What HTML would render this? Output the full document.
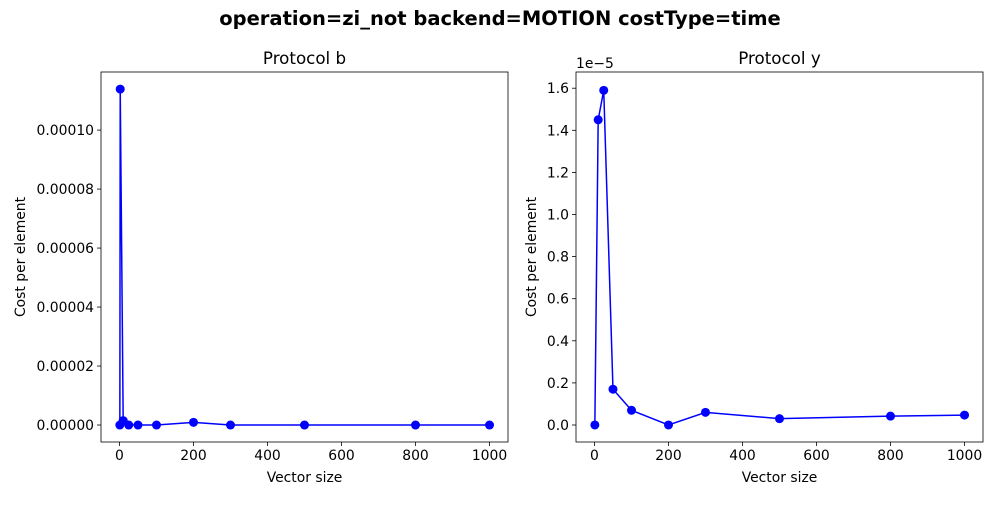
<!DOCTYPE html>
<html><head><meta charset="utf-8"><style>
body{margin:0;background:#fff;font-family:"Liberation Sans","DejaVu Sans",sans-serif}
svg text{font-family:"DejaVu Sans","Liberation Sans",sans-serif}
</style></head><body>
<svg id="fig" width="1000" height="500" xmlns="http://www.w3.org/2000/svg">
<text x="500" y="25" text-anchor="middle" font-size="19.5" font-weight="bold">operation=zi_not backend=MOTION costType=time</text>
</svg>
<script>
const leftX=[1,2,10,25,50,100,200,300,500,800,1000];
const leftY=[0,0.0001139,0.0000015,0,0,0,0.0000009,0,0,0,0];
const rightX=[1,10,25,50,100,200,300,500,800,1000];
const rightY=[0,1.45,1.59,0.17,0.07,0,0.06,0.03,0.042,0.047];
const xTicks=[0,200,400,600,800,1000];
const leftTicks=[0,0.00002,0.00004,0.00006,0.00008,0.0001];
const leftTickLabels=["0.00000","0.00002","0.00004","0.00006","0.00008","0.00010"];
const rightTicks=[0,0.2,0.4,0.6,0.8,1.0,1.2,1.4,1.6];
const rightTickLabels=["0.0","0.2","0.4","0.6","0.8","1.0","1.2","1.4","1.6"];
const NS="http://www.w3.org/2000/svg";
const svg=document.getElementById('fig');
function mk(tag,attrs,parent){const e=document.createElementNS(NS,tag);for(const k in attrs)e.setAttribute(k,attrs[k]);(parent||svg).appendChild(e);return e;}
function panel(px,title,xs,ys,yt,ytl,ymin,ymax,name,offset){
  const L=px,R=px+407,T=72,B=442;
  const g=mk('g',{});
  
  
  const xmin=-49.95,xmax=1049.95;
  const sx=v=>L+(v-xmin)/(xmax-xmin)*(R-L);
  const sy=v=>B-(v-ymin)/(ymax-ymin)*(B-T);
  xTicks.forEach(t=>{const x=sx(t);mk('line',{x1:x,x2:x,y1:B,y2:B+4,stroke:'#000','stroke-width':0.8},g);
    const tx=mk('text',{x:x,y:B+18,'text-anchor':'middle','font-size':13.9},g);tx.textContent=t;
    
    });
  yt.forEach((t,i)=>{const y=sy(t);mk('line',{x1:L-4,x2:L,y1:y,y2:y,stroke:'#000','stroke-width':0.8},g);
    const tx=mk('text',{x:L-7,y:y+5,'text-anchor':'end','font-size':13.9},g);tx.textContent=ytl[i];
    
    });
  const pts=xs.map((x,i)=>sx(x)+','+sy(ys[i])).join(' ');
  const line=mk('polyline',{points:pts,fill:'none',stroke:'#0000ff','stroke-width':1.5},g);
  
  
  xs.forEach((x,i)=>{const c=mk('circle',{cx:sx(x),cy:sy(ys[i]),r:4.5,fill:'#0000ff'},g);
    
    });
  mk('rect',{x:L,y:T,width:R-L,height:B-T,fill:'none',stroke:'#000','stroke-width':0.8},g);
  const tt=mk('text',{x:(L+R)/2,y:64,'text-anchor':'middle','font-size':16.7},g);tt.textContent=title;
  
  
  const xl=mk('text',{x:(L+R)/2,y:482,'text-anchor':'middle','font-size':13.9},g);xl.textContent='Vector size';
  
  
  const yx=L-(offset?40:76);
  const yl=mk('text',{x:yx,y:(T+B)/2,'text-anchor':'middle','font-size':13.9,transform:`rotate(-90 ${yx} ${(T+B)/2})`},g);yl.textContent='Cost per element';
  
  
  if(offset){const o=mk('text',{x:L,y:68,'font-size':13.9},g);o.textContent='1e\u22125';
    
    }
}
panel(101,'Protocol b',leftX,leftY,leftTicks,leftTickLabels,-0.00000576,0.0001197,'left-panel',false);
panel(576,'Protocol y',rightX,rightY,rightTicks,rightTickLabels,-0.0808,1.677,'right-panel',true);
</script>
</body></html>
